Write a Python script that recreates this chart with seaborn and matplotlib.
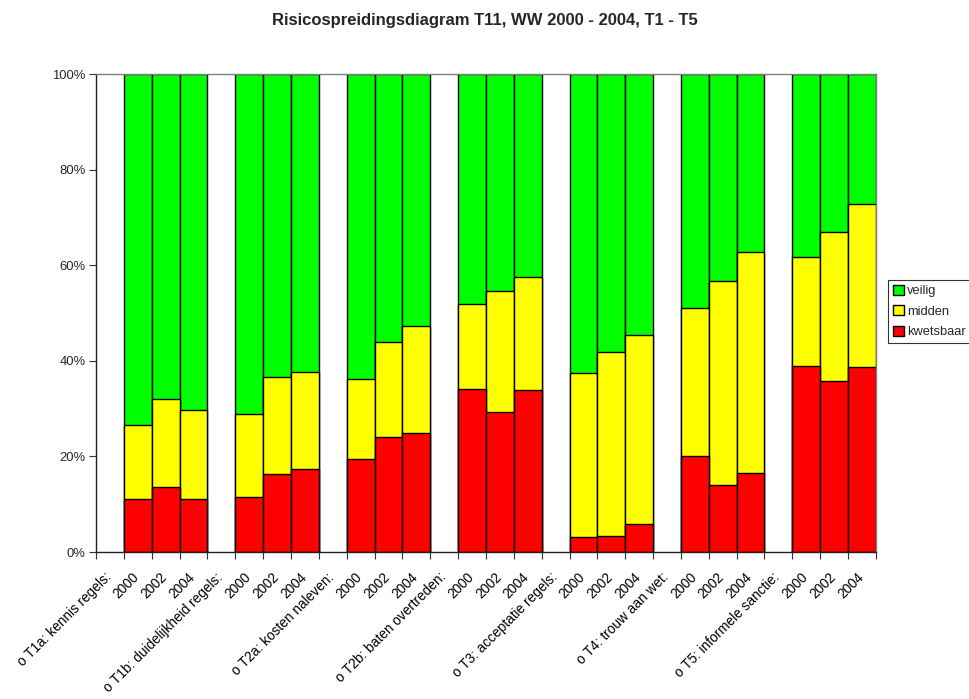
import matplotlib
matplotlib.use("Agg")
import matplotlib.pyplot as plt
import matplotlib.transforms as mtransforms
import numpy as np
import pandas as pd
import seaborn as sns
from matplotlib.patches import Patch
from matplotlib.ticker import FixedLocator, FuncFormatter

# Risk categories per indicator and survey year (percentages)
groups = [
    "o T1a: kennis regels:",
    "o T1b: duidelijkheid regels:",
    "o T2a: kosten naleven:",
    "o T2b: baten overtreden:",
    "o T3: acceptatie regels:",
    "o T4: trouw aan wet:",
    "o T5: informele sanctie:",
]
years = ["2000", "2002", "2004"]

kwetsbaar = [11.0, 13.6, 11.1, 11.5, 16.3, 17.4, 19.5, 24.0, 24.9, 34.1, 29.2, 33.9,
             3.2, 3.4, 5.8, 20.1, 14.0, 16.5, 39.0, 35.8, 38.7]
midden = [15.5, 18.4, 18.6, 17.3, 20.4, 20.2, 16.7, 19.9, 22.4, 17.8, 25.5, 23.6,
          34.3, 38.5, 39.7, 30.9, 42.8, 46.2, 22.8, 31.2, 34.1]
veilig = [73.5, 68.0, 70.3, 71.2, 63.3, 62.4, 63.8, 56.1, 52.7, 48.1, 45.3, 42.5,
          62.5, 58.1, 54.5, 49.0, 43.2, 37.3, 38.2, 33.0, 27.2]

series_names = ["veilig", "midden", "kwetsbaar"]
colors = {"veilig": "#00FF00", "midden": "#FFFF00", "kwetsbaar": "#FF0000"}

# Category slots: one label slot per indicator followed by its three years
order, tick_labels, rows = [], [], []
i = 0
for g in groups:
    order.append(g)
    tick_labels.append(g)
    for y in years:
        key = f"{g}|{y}"
        order.append(key)
        tick_labels.append(y)
        rows.append({"key": key, "kwetsbaar": kwetsbaar[i],
                     "midden": midden[i], "veilig": veilig[i]})
        i += 1
df = pd.DataFrame(rows)
df["top_kwetsbaar"] = df["kwetsbaar"]
df["top_midden"] = df["kwetsbaar"] + df["midden"]
df["top_veilig"] = df["top_midden"] + df["veilig"]

sns.set_style("white")
plt.rcParams["font.family"] = ["Liberation Sans", "DejaVu Sans"]

FS = 9.8

fig = plt.figure(figsize=(9.7, 6.99), dpi=100)
ax = fig.add_axes([0.099, 0.2103, 0.804, 0.6836])

# Stacked bars drawn as overlapping cumulative layers
for name in ["veilig", "midden", "kwetsbaar"]:
    sns.barplot(data=df, x="key", y=f"top_{name}", order=order, color=colors[name],
                saturation=1, width=1.0, edgecolor="black", linewidth=1.0,
                errorbar=None, ax=ax)

ax.set_xlim(-0.5, len(order) - 0.5)
ax.set_ylim(0, 100)
ax.set_xlabel("")
ax.set_ylabel("")

ax.set_xticks(range(len(order)))
ax.set_xticklabels(tick_labels, rotation=45, ha="right", rotation_mode="anchor",
                   fontsize=FS, color="black")
ax.tick_params(axis="x", which="major", length=0, pad=13)
# nudge the slanted labels slightly to the left
shift = mtransforms.ScaledTranslation(-4 / 72, 0, fig.dpi_scale_trans)
for lbl in ax.get_xticklabels():
    lbl.set_transform(lbl.get_transform() + shift)
ax.xaxis.set_minor_locator(FixedLocator(np.arange(-0.5, len(order), 1.0)))
ax.tick_params(axis="x", which="minor", length=5, width=0.8, color="#333333",
               direction="out", bottom=True)

ax.set_yticks([0, 20, 40, 60, 80, 100])
ax.yaxis.set_major_formatter(FuncFormatter(lambda v, p: f"{v:.0f}%"))
ax.tick_params(axis="y", length=5, width=0.8, color="#333333", direction="out",
               left=True, labelsize=9.4, pad=2.5)

for side in ["left", "bottom"]:
    ax.spines[side].set_color("#222222")
    ax.spines[side].set_linewidth(1.0)
for side in ["top", "right"]:
    ax.spines[side].set_visible(True)
    ax.spines[side].set_color("#808080")
    ax.spines[side].set_linewidth(1.0)

fig.suptitle("Risicospreidingsdiagram T11, WW 2000 - 2004, T1 - T5",
             fontsize=12, fontweight="bold", x=0.5, y=0.981)

handles = [Patch(facecolor=colors[n], edgecolor="black", linewidth=1.0) for n in series_names]
leg = fig.legend(handles, series_names, loc="upper left",
                 bbox_to_anchor=(0.9155, 0.6), fontsize=9.3, frameon=True,
                 fancybox=False, edgecolor="black", handlelength=0.8,
                 handleheight=0.8, handletextpad=0.25, borderpad=0.4,
                 labelspacing=0.62, borderaxespad=0)
leg.get_frame().set_linewidth(0.8)

fig.savefig("out.png", dpi=100)
